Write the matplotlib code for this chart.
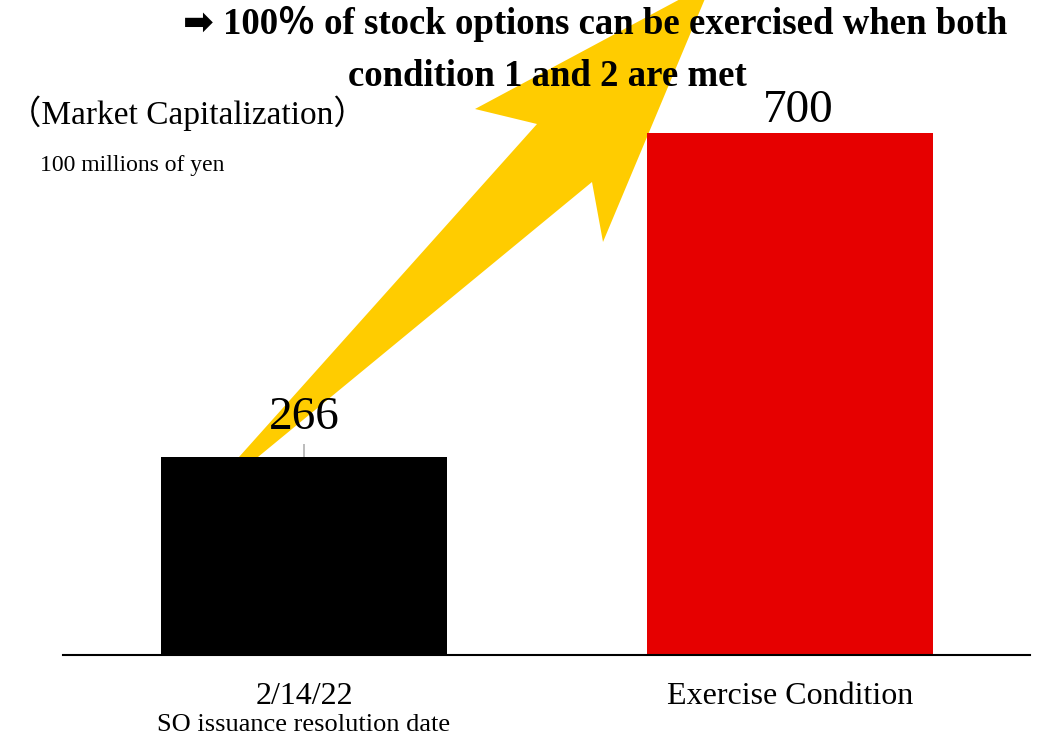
import matplotlib
matplotlib.use("Agg")
import matplotlib.pyplot as plt
from matplotlib.patches import Polygon

categories = ["2/14/22", "Exercise Condition"]
subtitles = ["SO issuance resolution date", ""]
values = [266, 700]
colors = ["#000000", "#e60000"]

W, H = 1043, 735
fig = plt.figure(figsize=(W / 100, H / 100), dpi=100)
ax = fig.add_axes([63 / W, (H - 655) / H, 967 / W, 655 / H])

serif = ["Liberation Serif", "DejaVu Serif"]
serif_cjk = ["Liberation Serif", "Noto Sans CJK JP"]

x = list(range(len(values)))
bars = ax.bar(x, values, width=0.588, color=colors, zorder=3)
ax.set_xlim(-0.496, 1.494)
ax.set_ylim(0, 878)

for s in ["top", "right", "left"]:
    ax.spines[s].set_visible(False)
ax.spines["bottom"].set_linewidth(1.5)
ax.spines["bottom"].set_zorder(4)
ax.set_yticks([])
ax.set_xticks([])

# category labels under the axis
for xi, cat, sub in zip(x, categories, subtitles):
    ax.annotate(cat, (xi, 0), xytext=(0, -41), textcoords="offset pixels",
                ha="center", va="center", fontsize=23, family=serif)
    if sub:
        ax.annotate(sub, (xi, 0), xytext=(0, -70), textcoords="offset pixels",
                    ha="center", va="center", fontsize=19, family=serif)

# value labels
label_offsets = [(0, 39), (8, 22)]
for b, v, (dx, dy) in zip(bars, values, label_offsets):
    cx = b.get_x() + b.get_width() / 2
    ax.annotate(f"{v}", (cx, v), xytext=(dx, dy), textcoords="offset pixels",
                ha="center", va="center", fontsize=34, family=serif, zorder=6)
# leader line for the small bar's label
b0 = bars[0]
cx0 = b0.get_x() + b0.get_width() / 2
ax.plot([cx0, cx0], [values[0], values[0] + 17], color="#b0b0b0", lw=1.2,
        zorder=2, solid_capstyle="butt")

# big yellow arrow rising from the first bar toward the second
def fig_xy(px, py):
    return (px / W, 1 - py / H)

arrow_pts = [(239, 457), (258, 457), (592, 182), (603, 242), (712, -18),
             (475, 109), (537, 124)]
arrow = Polygon([fig_xy(*p) for p in arrow_pts], closed=True,
                transform=fig.transFigure, facecolor="#ffcc00",
                edgecolor="none", zorder=1)
ax.add_patch(arrow)
arrow.set_clip_on(False)

# headline
fig.text(595 / W, 1 - 24 / H, "\u27a1 100\uff05 of stock options can be exercised when both",
         ha="center", va="center", fontsize=26.5, fontweight="bold",
         family=["Liberation Serif", "DejaVu Sans", "Noto Sans CJK JP"], zorder=10)
fig.text(547 / W, 1 - 77 / H, "condition 1 and 2 are met",
         ha="center", va="center", fontsize=26.5, fontweight="bold",
         family=serif, zorder=10)

# unit labels
fig.text(8 / W, 1 - 113 / H, "\uff08Market Capitalization\uff09",
         ha="left", va="center", fontsize=24, family=serif_cjk)
fig.text(40 / W, 1 - 165 / H, "100 millions of yen",
         ha="left", va="center", fontsize=17, family=serif)

fig.savefig("out.png", dpi=100)
